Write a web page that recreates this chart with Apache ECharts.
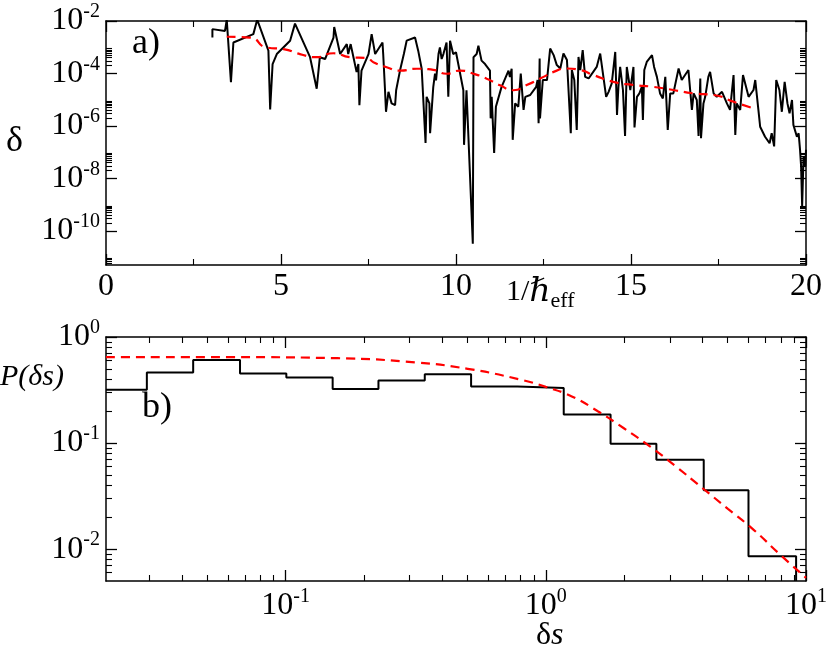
<!DOCTYPE html>
<html><head><meta charset="utf-8">
<script src="https://cdn.jsdelivr.net/npm/echarts@6/dist/echarts.min.js"></script>
<style>html,body{margin:0;padding:0;background:#fff}#c{width:830px;height:662px}</style>
</head><body><div id="c"></div>
<script>
// Panel a: x = 1/hbar_eff, y = log10(delta)
const deltaX = [3.04,3.04,3.40,3.45,3.57,3.64,4.21,4.32,4.64,4.69,4.76,4.88,5.26,5.40,5.83,6.02,6.11,6.26,6.50,6.52,6.69,6.88,6.92,6.99,7.07,7.16,7.21,7.24,7.30,7.50,7.59,7.69,7.90,7.92,7.97,8.00,8.07,8.16,8.26,8.29,8.40,8.51,8.59,8.83,8.92,9.02,9.13,9.16,9.24,9.26,9.35,9.40,9.43,9.50,9.54,9.59,9.64,9.73,9.78,9.83,9.92,10.00,10.21,10.23,10.30,10.48,10.50,10.59,10.64,10.73,10.83,10.97,10.99,11.02,11.09,11.14,11.30,11.50,11.54,11.59,11.62,11.69,11.78,11.85,11.93,11.98,12.12,12.29,12.33,12.36,12.39,12.40,12.48,12.60,12.69,12.79,12.88,12.98,13.07,13.17,13.28,13.31,13.38,13.45,13.50,13.55,13.62,13.69,13.79,14.02,14.12,14.29,14.36,14.45,14.55,14.60,14.64,14.69,14.77,14.83,14.88,14.98,15.07,15.10,15.17,15.24,15.31,15.34,15.38,15.45,15.60,15.66,15.74,15.83,15.91,15.98,16.05,16.12,16.21,16.36,16.45,16.64,16.74,16.79,16.88,16.93,16.98,17.00,17.07,17.12,17.21,17.26,17.36,17.45,17.60,17.74,17.83,17.93,17.98,18.02,18.12,18.20,18.36,18.50,18.55,18.64,18.69,18.83,18.96,19.02,19.09,19.15,19.24,19.31,19.39,19.47,19.53,19.60,19.64,19.74,19.79,19.83,19.86,19.89,19.93,19.98,20.00];
const deltaLog = [-2.63,-2.31,-2.38,-1.95,-4.33,-2.82,-2.50,-1.95,-3.13,-5.37,-3.64,-3.26,-2.75,-2.10,-3.38,-4.58,-3.38,-3.45,-2.63,-2.23,-3.26,-2.88,-3.26,-2.88,-3.38,-3.95,-3.64,-5.21,-3.89,-3.26,-2.50,-3.26,-2.82,-3.26,-4.58,-5.46,-4.70,-5.14,-5.21,-4.64,-3.89,-3.26,-2.75,-2.63,-3.13,-3.82,-6.65,-4.89,-5.14,-6.28,-4.52,-4.01,-4.26,-3.26,-3.01,-3.45,-3.26,-2.82,-4.89,-2.75,-3.26,-3.19,-4.64,-6.72,-4.64,-10.49,-3.38,-3.26,-2.94,-3.51,-3.64,-3.89,-5.71,-4.89,-7.03,-5.27,-4.52,-3.89,-4.14,-3.82,-6.53,-5.14,-5.27,-4.00,-5.39,-4.89,-4.82,-4.51,-4.25,-5.90,-3.43,-5.71,-4.25,-4.25,-3.05,-3.30,-3.68,-3.81,-3.24,-3.49,-6.28,-3.87,-4.25,-6.15,-3.37,-3.87,-3.11,-4.13,-4.19,-3.75,-3.24,-4.89,-4.70,-4.38,-3.18,-5.58,-4.51,-3.75,-4.63,-6.38,-3.75,-4.63,-3.75,-6.06,-4.89,-4.76,-4.51,-5.77,-3.87,-3.56,-3.30,-3.75,-4.13,-4.76,-4.95,-4.13,-6.15,-4.76,-4.76,-3.81,-4.25,-3.87,-5.39,-4.76,-5.01,-6.38,-4.19,-6.47,-5.14,-4.89,-4.13,-3.94,-4.76,-4.89,-4.70,-5.14,-5.39,-4.06,-6.34,-5.14,-5.39,-4.06,-4.89,-4.63,-4.25,-5.39,-6.03,-6.41,-6.66,-6.28,-6.78,-4.25,-4.63,-5.46,-4.32,-5.14,-5.52,-5.01,-5.96,-6.41,-6.28,-6.91,-7.54,-9.06,-7.16,-7.54,-6.91];
const fitAX = [3.45,4.11,4.59,5.07,5.54,6.02,6.50,6.97,7.45,7.64,8.02,8.40,8.88,9.35,9.73,10.11,10.50,10.88,11.26,11.64,12.02,12.50,12.79,13.17,13.55,13.93,14.50,15.07,15.64,16.21,16.79,17.36,17.93,18.50];
const fitALog = [-2.60,-2.63,-3.01,-3.07,-3.26,-3.38,-3.23,-3.38,-3.41,-3.57,-3.76,-3.89,-3.82,-3.86,-4.01,-3.89,-4.01,-4.20,-4.45,-4.64,-4.44,-4.13,-3.94,-3.81,-3.87,-4.06,-4.32,-4.44,-4.51,-4.63,-4.76,-4.82,-5.08,-5.33];
// Panel b: log10(delta s) bin edges, log10(P) heights
const histEdgesLog = [-1.69,-1.533,-1.355,-1.175,-0.997,-0.819,-0.643,-0.465,-0.287,-0.109,0.069,0.249,0.425,0.607,0.779,0.962];
const histLog = [-0.498,-0.335,-0.216,-0.345,-0.382,-0.489,-0.411,-0.351,-0.467,-0.480,-0.730,-1.006,-1.157,-1.445,-2.066];
const fitBX = [-1.69,-1.2,-0.8,-0.5,-0.3,-0.1,0,0.1,0.2,0.3,0.4,0.5,0.6,0.7,0.8,0.9,1.0];
const fitBLog = [-0.19,-0.19,-0.20,-0.24,-0.30,-0.40,-0.47,-0.56,-0.70,-0.86,-1.03,-1.22,-1.42,-1.62,-1.82,-2.05,-2.27];
const aYLabels = [-2,-4,-6,-8,-10];
const aXLabels = [0,5,10,15,20];
const bXLabels = [-1,0,1];
const bYLabels = [0,-1,-2];

const FONT = '"Liberation Serif","DejaVu Serif","Times New Roman",serif';
const A = {xmin:0,xmax:20,ymin:-11.3,ymax:-2};
const B = {xmin:-1.69,xmax:1,ymin:-2.3,ymax:0};
function logMinors(lo,hi,decs){const r=[];for(const n of decs)for(let k=2;k<=9;k++){const v=n+Math.log10(k);if(v>lo&&v<hi)r.push(v);}return r;}
const supFmt = v => '10{s|' + Math.round(v) + '}';
const rich = {s:{fontSize:20,fontFamily:FONT,color:'#000',padding:[0,0,18,0]}};

const xAxis=[],yAxis=[];
function axisSet(arr,dim,g,min,max,majors,minors,labelVals,fmt){
  const posA = dim==='x'?['bottom','top']:['left','right'];
  posA.forEach((p,pi)=>{
    arr.push({type:'value',gridIndex:g,position:p,min,max,
      axisLine:{show:true,onZero:false,lineStyle:{color:'#000',width:1.5}},
      splitLine:{show:false},
      axisTick:{show:true,inside:true,length:11,customValues:majors,lineStyle:{color:'#000',width:1.3}},
      axisLabel:{show:pi===0,customValues:labelVals,formatter:fmt,fontFamily:FONT,fontSize:32,color:'#000',margin:dim==='x'?6:6,rich}});
    arr.push({type:'value',gridIndex:g,position:p,min,max,
      axisLine:{show:false,onZero:false},splitLine:{show:false},
      axisTick:{show:true,inside:true,length:6,customValues:minors,lineStyle:{color:'#000',width:1.1}},
      axisLabel:{show:false}});
  });
}
axisSet(xAxis,'x',0,A.xmin,A.xmax,aXLabels,[2.5,7.5,12.5,17.5],aXLabels,v=>String(v));
axisSet(yAxis,'y',0,A.ymin,A.ymax,[-2,-4,-6,-8,-10],logMinors(A.ymin,A.ymax,[-4,-6,-8,-10,-12]),aYLabels,supFmt);
axisSet(xAxis,'x',1,B.xmin,B.xmax,bXLabels,logMinors(B.xmin,B.xmax,[-2,-1,0]),bXLabels,supFmt);
axisSet(yAxis,'y',1,B.ymin,B.ymax,bYLabels,logMinors(B.ymin,B.ymax,[-3,-2,-1]),bYLabels,supFmt);

const histPts=[];
for(let i=0;i<histLog.length;i++){histPts.push([histEdgesLog[i],histLog[i]]);histPts.push([histEdgesLog[i+1],histLog[i]]);}
histPts.push([histEdgesLog[histEdgesLog.length-1],B.ymin]);

const chart = echarts.init(document.getElementById('c'),null,{renderer:'canvas'});
const T = (txt,left,top,size,extra)=>Object.assign({type:'text',left,top,style:Object.assign({text:txt,fontFamily:FONT,fontSize:size,fill:'#000'},extra||{})});
chart.setOption({
  animation:false,
  grid:[{left:106,top:21,width:700,height:244},{left:106,top:337,width:700,height:244}],
  xAxis, yAxis,
  series:[
    {type:'line',xAxisIndex:0,yAxisIndex:0,data:deltaX.map((x,i)=>[x,deltaLog[i]]),symbol:'none',lineStyle:{color:'#000',width:2}},
    {type:'line',xAxisIndex:0,yAxisIndex:0,data:fitAX.map((x,i)=>[x,fitALog[i]]),symbol:'none',smooth:0.6,lineStyle:{color:'#f00',width:2.2,type:[9,6]},z:3},
    {type:'line',xAxisIndex:4,yAxisIndex:4,data:histPts,symbol:'none',lineStyle:{color:'#000',width:2}},
    {type:'line',xAxisIndex:4,yAxisIndex:4,data:fitBX.map((x,i)=>[x,fitBLog[i]]),symbol:'none',smooth:true,lineStyle:{color:'#f00',width:2.2,type:[9,6]},z:3}
  ],
  graphic:[
    T('a)',132,26,36),
    T('b)',142,390,36),
    T('δ',6,124,36),
    T('P(δs)',0,362,30,{fontStyle:'italic'}),
    T('1/{i|ℏ}{sub|eff}',506,276,30,{rich:{i:{fontFamily:FONT,fontStyle:'italic',fontSize:33,fill:'#000'},sub:{fontFamily:FONT,fontSize:22,fill:'#000',padding:[18,0,0,0]}}}),
    T('δ{i|s}',536,620,32,{rich:{i:{fontFamily:FONT,fontStyle:'italic',fontSize:32,fill:'#000'}}})
  ]
});
</script></body></html>
